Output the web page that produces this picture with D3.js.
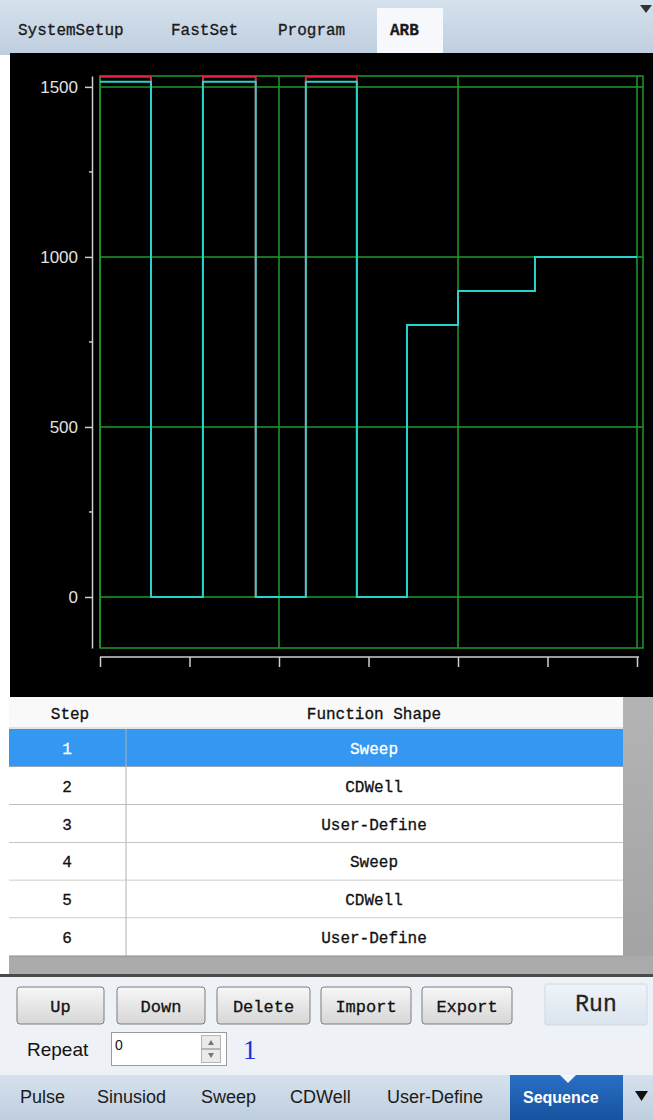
<!DOCTYPE html>
<html>
<head>
<meta charset="utf-8">
<script src="https://cdn.jsdelivr.net/npm/d3@7"></script>
<style>
    html, body { margin: 0; padding: 0; background: #fff; }
    svg { display: block; }
</style>
</head>
<body>
<svg id="chart" width="653" height="1120"></svg>
<script>
// ---- data ----
const segStart = [0, 5.7, 11.5, 17.4, 23.0, 28.7, 34.3, 40, 48.6];
const segEnd = 60;
const outputValues = [1515, 0, 1515, 0, 1515, 0, 800, 900, 1000];
const setValues = [1530, 0, 1530, 0, 1530, 0, 800, 900, 1000];
const yTicks = [0, 500, 1000, 1500];
const yMinorTicks = [250, 750, 1250];
const xTicks = [0, 10, 20, 30, 40, 50, 60];
const xGrid = [0, 20, 40, 60];

const topTabs = ['SystemSetup', 'FastSet', 'Program', 'ARB'];
const steps = [1, 2, 3, 4, 5, 6];
const shapes = ['Sweep', 'CDWell', 'User-Define', 'Sweep', 'CDWell', 'User-Define'];
const buttons = ['Up', 'Down', 'Delete', 'Import', 'Export'];
const bottomTabs = ['Pulse', 'Sinusiod', 'Sweep', 'CDWell', 'User-Define', 'Sequence'];

// ---- layout ----
const topTabX = [18, 171, 278, 390];
const buttonX = [17, 117, 217, 321, 422];
const buttonW = [87, 88, 93, 90, 90];
const bottomTabX = [20, 97, 201, 290, 387, 523];

const mono = '"Liberation Mono", "Courier New", "DejaVu Serif", monospace';
const sans = '"Liberation Sans", Arial, sans-serif';
const green = '#1f9a28';

const svg = d3.select('#chart');
const defs = svg.append('defs');

function grad(id, stops) {
    const g = defs.append('linearGradient').attr('id', id)
        .attr('x1', 0).attr('y1', 0).attr('x2', 0).attr('y2', 1);
    stops.forEach(function (s) {
        g.append('stop').attr('offset', s[0]).attr('stop-color', s[1]);
    });
}
grad('tabbar', [[0, '#d5e1ed'], [1, '#bfcedf']]);
grad('btn', [[0, '#f7f7f7'], [1, '#d6d6d6']]);
grad('run', [[0, '#eef3f8'], [1, '#dbe5ef']]);
grad('seq', [[0, '#2a6fc4'], [1, '#16529f']]);
grad('side', [[0, '#b4b4b4'], [1, '#a2a2a2']]);

// ---- top tab bar ----
svg.append('rect').attr('x', 0).attr('y', 0).attr('width', 653).attr('height', 55)
    .attr('fill', 'url(#tabbar)');
svg.append('rect').attr('x', 377).attr('y', 8).attr('width', 66).attr('height', 47)
    .attr('fill', '#f6f8fb');
svg.append('path').attr('d', 'M640,5 L652,5 L646,13 Z').attr('fill', '#333');
svg.append('g').selectAll('text').data(topTabs).enter().append('text')
    .attr('x', function (d, i) { return topTabX[i]; })
    .attr('y', 35)
    .attr('font-family', mono)
    .attr('font-size', 16)
    .attr('font-weight', function (d) { return d === 'ARB' ? 'bold' : 'normal'; })
    .attr('fill', '#1a1a1a')
    .attr('stroke', '#1a1a1a').attr('stroke-width', 0.3)
    .text(function (d) { return d; });

// ---- black plot panel ----
svg.append('rect').attr('x', 10).attr('y', 53).attr('width', 643).attr('height', 644)
    .attr('fill', '#000');

const x = d3.scaleLinear().domain([0, 60]).range([100, 637]);
const y = d3.scaleLinear().domain([-150, 1532]).range([648, 76]);
const right = x(segEnd) + 6;

// grid + frame
const grid = svg.append('g').attr('stroke', green).attr('stroke-width', 1.5).attr('fill', 'none');
grid.append('rect').attr('x', x(0)).attr('y', y(1532)).attr('width', right - x(0)).attr('height', y(-150) - y(1532));
grid.selectAll('.hg').data(yTicks).enter().append('line')
    .attr('x1', x(0)).attr('x2', right)
    .attr('y1', function (d) { return y(d); }).attr('y2', function (d) { return y(d); });
grid.selectAll('.vg').data(xGrid).enter().append('line')
    .attr('y1', y(1532)).attr('y2', y(-150))
    .attr('x1', function (d) { return x(d); }).attr('x2', function (d) { return x(d); });

// axes
const yAxis = svg.append('g').attr('transform', 'translate(92,0)')
    .call(d3.axisLeft(y).tickValues(yTicks).tickFormat(d3.format('d'))
        .tickSize(7).tickSizeOuter(0).tickPadding(7));
yAxis.select('.domain').attr('stroke', '#cfcfcf').attr('stroke-width', 1.5);
yAxis.selectAll('.tick line').attr('stroke', '#cfcfcf').attr('stroke-width', 1.5);
yAxis.selectAll('.tick text').attr('fill', '#e2e2e2')
    .attr('font-family', sans).attr('font-size', 17);
yAxis.selectAll('.minor').data(yMinorTicks).enter().append('line')
    .attr('x1', -3).attr('x2', 0)
    .attr('y1', function (d) { return y(d); }).attr('y2', function (d) { return y(d); })
    .attr('stroke', '#cfcfcf').attr('stroke-width', 1.5);

const xAxis = svg.append('g').attr('transform', 'translate(0,657)')
    .call(d3.axisBottom(x).tickValues(xTicks).tickSize(10).tickSizeOuter(0).tickFormat(''));
xAxis.select('.domain').attr('stroke', '#cfcfcf').attr('stroke-width', 1.5)
    .attr('d', 'M' + x(0) + ',0H' + (x(60) + 2));
xAxis.selectAll('.tick line').attr('stroke', '#cfcfcf').attr('stroke-width', 1.5);

// traces
function stepPoints(values) {
    const pts = segStart.map(function (s, i) { return [s, values[i]]; });
    pts.push([segEnd, values[values.length - 1]]);
    return pts;
}
const line = d3.line()
    .x(function (d) { return x(d[0]); })
    .y(function (d) { return y(d[1]); })
    .curve(d3.curveStepAfter);

svg.append('path').datum(stepPoints(setValues))
    .attr('d', line).attr('fill', 'none')
    .attr('stroke', '#e8203c').attr('stroke-width', 2);
svg.append('path').datum(stepPoints(outputValues))
    .attr('d', line).attr('fill', 'none')
    .attr('stroke', '#2ad2cc').attr('stroke-width', 2);

// ---- step table ----
svg.append('rect').attr('x', 623).attr('y', 697).attr('width', 30).attr('height', 277).attr('fill', 'url(#side)');
svg.append('rect').attr('x', 9).attr('y', 956).attr('width', 644).attr('height', 18).attr('fill', '#ababab');
svg.append('rect').attr('x', 9).attr('y', 697).attr('width', 614).attr('height', 31).attr('fill', '#f9f9f9');
svg.append('line').attr('x1', 9).attr('x2', 623).attr('y1', 728).attr('y2', 728).attr('stroke', '#c8c8c8');

const rowY = d3.scaleBand().domain(steps).range([729, 956]);
const header = svg.append('g').attr('font-family', mono).attr('font-size', 16)
    .attr('fill', '#111').attr('stroke', '#111').attr('stroke-width', 0.3).attr('text-anchor', 'middle');
header.append('text').attr('x', 70).attr('y', 719).text('Step');
header.append('text').attr('x', 374).attr('y', 719).text('Function Shape');

const rows = svg.append('g').selectAll('g').data(steps).enter().append('g')
    .attr('transform', function (d) { return 'translate(0,' + rowY(d) + ')'; });
rows.append('rect').attr('x', 9).attr('width', 614).attr('height', rowY.bandwidth())
    .attr('fill', function (d) { return d === 1 ? '#3497f2' : '#fff'; });
rows.append('line').attr('x1', 9).attr('x2', 623)
    .attr('y1', rowY.bandwidth()).attr('y2', rowY.bandwidth())
    .attr('stroke', '#8c8c8c');
rows.append('line').attr('x1', 126).attr('x2', 126).attr('y1', 0).attr('y2', rowY.bandwidth())
    .attr('stroke', '#b0b0b0');
rows.append('text').attr('x', 67).attr('y', rowY.bandwidth() / 2 + 6)
    .attr('text-anchor', 'middle').attr('font-family', mono).attr('font-size', 16)
    .attr('fill', function (d) { return d === 1 ? '#fff' : '#111'; })
    .attr('stroke', function (d) { return d === 1 ? '#fff' : '#111'; }).attr('stroke-width', 0.3)
    .text(function (d) { return d; });
rows.append('text').attr('x', 374).attr('y', rowY.bandwidth() / 2 + 6)
    .attr('text-anchor', 'middle').attr('font-family', mono).attr('font-size', 16)
    .attr('fill', function (d) { return d === 1 ? '#fff' : '#111'; })
    .attr('stroke', function (d) { return d === 1 ? '#fff' : '#111'; }).attr('stroke-width', 0.3)
    .text(function (d, i) { return shapes[i]; });

// ---- control panel ----
svg.append('rect').attr('x', 0).attr('y', 974).attr('width', 653).attr('height', 3).attr('fill', '#4a4a4a');
svg.append('rect').attr('x', 0).attr('y', 977).attr('width', 653).attr('height', 98).attr('fill', '#eef2f7');

const btn = svg.append('g').selectAll('g').data(buttons).enter().append('g');
btn.append('rect')
    .attr('x', function (d, i) { return buttonX[i]; }).attr('y', 987)
    .attr('width', function (d, i) { return buttonW[i]; }).attr('height', 37)
    .attr('rx', 3).attr('fill', 'url(#btn)').attr('stroke', '#7d7d7d');
btn.append('text')
    .attr('x', function (d, i) { return buttonX[i] + buttonW[i] / 2; }).attr('y', 1012)
    .attr('text-anchor', 'middle').attr('font-family', mono).attr('font-size', 17)
    .attr('fill', '#111').attr('stroke', '#111').attr('stroke-width', 0.3)
    .text(function (d) { return d; });

svg.append('rect').attr('x', 545).attr('y', 984).attr('width', 102).attr('height', 41)
    .attr('rx', 2).attr('fill', 'url(#run)').attr('stroke', '#cdd8e3');
svg.append('text').attr('x', 596).attr('y', 1011).attr('text-anchor', 'middle')
    .attr('font-family', mono).attr('font-size', 23).attr('fill', '#222')
    .attr('stroke', '#222').attr('stroke-width', 0.3).text('Run');

svg.append('text').attr('x', 27).attr('y', 1056)
    .attr('font-family', sans).attr('font-size', 19).attr('fill', '#111').text('Repeat');
svg.append('rect').attr('x', 111.5).attr('y', 1032.5).attr('width', 115).attr('height', 33)
    .attr('fill', '#fff').attr('stroke', '#9a9a9a');
svg.append('text').attr('x', 115).attr('y', 1050)
    .attr('font-family', sans).attr('font-size', 14).attr('fill', '#111').text('0');
svg.append('rect').attr('x', 201.5).attr('y', 1035.5).attr('width', 19).attr('height', 13)
    .attr('fill', '#eaeaea').attr('stroke', '#b5b5b5');
svg.append('rect').attr('x', 201.5).attr('y', 1049.5).attr('width', 19).attr('height', 13)
    .attr('fill', '#eaeaea').attr('stroke', '#b5b5b5');
svg.append('path').attr('d', 'M208,1045 L214,1045 L211,1040 Z').attr('fill', '#777');
svg.append('path').attr('d', 'M208,1053 L214,1053 L211,1058 Z').attr('fill', '#777');
svg.append('text').attr('x', 243).attr('y', 1059)
    .attr('font-family', '"Liberation Serif", serif').attr('font-size', 27).attr('fill', '#1b2fd6').text('1');

// ---- bottom tab bar ----
svg.append('rect').attr('x', 0).attr('y', 1075).attr('width', 653).attr('height', 45).attr('fill', 'url(#tabbar)');
svg.append('rect').attr('x', 510).attr('y', 1075).attr('width', 113).attr('height', 45).attr('fill', 'url(#seq)');
svg.append('path').attr('d', 'M560,1075 L576,1075 L568,1083 Z').attr('fill', '#f2f6fa');
svg.append('g').selectAll('text').data(bottomTabs).enter().append('text')
    .attr('x', function (d, i) { return bottomTabX[i]; }).attr('y', 1103)
    .attr('font-family', sans)
    .attr('font-size', function (d) { return d === 'Sequence' ? 16 : 18; })
    .attr('font-weight', function (d) { return d === 'Sequence' ? 'bold' : 'normal'; })
    .attr('fill', function (d) { return d === 'Sequence' ? '#fff' : '#1a1a1a'; })
    .text(function (d) { return d; });
svg.append('path').attr('d', 'M635,1091 L648,1091 L641.5,1101 Z').attr('fill', '#111');
</script>
</body>
</html>
